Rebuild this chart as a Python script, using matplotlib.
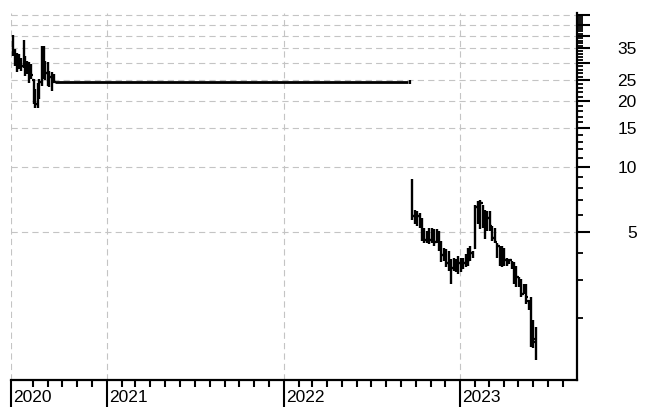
import matplotlib
matplotlib.use("Agg")
import matplotlib.pyplot as plt
import matplotlib.dates as mdates
import matplotlib.transforms as mtransforms
import pandas as pd

plt.rcParams["font.family"] = ["Liberation Sans", "DejaVu Sans"]
plt.rcParams["lines.scale_dashes"] = False

# --- Price bars, summer 2020 ---
early_open = [38.0, 33.0, 30.0, 29.0, 31.0, 29.0, 31.0, 28.0, 29.5, 26.0, 25.0,
              20.5, 19.5, 23.0, 24.5, 35.0, 29.0, 27.0, 25.0, 26.0, 24.5]
early_high = [40.6, 34.7, 33.5, 32.9, 31.8, 38.3, 32.4, 30.7, 30.2, 29.7, 25.3,
              22.8, 24.4, 25.3, 36.1, 35.9, 30.7, 30.2, 27.6, 27.2, 26.7]
early_low = [32.4, 29.1, 27.2, 28.1, 27.6, 28.6, 26.2, 26.7, 24.4, 25.3, 19.5,
             18.6, 18.6, 20.5, 23.6, 25.3, 25.0, 23.6, 23.2, 22.4, 24.9]
early_close = [34.0, 30.0, 28.5, 31.0, 29.0, 31.0, 28.0, 29.5, 26.0, 26.5, 20.5,
               19.5, 23.0, 24.5, 35.0, 29.0, 27.0, 25.0, 26.0, 24.0, 24.5]

# --- Flat stretch with no trading ---
flat_start = "2020-09-15"
flat_end = "2022-09-15"
flat_value = 24.5
flat_end_high = 25.0
flat_end_low = 23.9

# --- Price bars, autumn 2022 to summer 2023 ---
late_open = [8.04, 5.90, 5.80, 5.90, 5.60, 4.70, 4.60, 4.90, 4.60, 4.90, 4.50,
             4.90, 4.30, 3.90, 4.00, 3.60, 3.50, 3.40, 3.60, 3.40, 3.60, 3.40,
             3.60, 3.80, 3.70, 4.00, 4.20, 6.50, 6.00, 6.80, 5.60, 5.20, 5.80,
             5.30, 4.70, 4.50, 4.30, 3.90, 4.00, 3.70, 3.60, 3.70, 3.50, 3.00,
             3.10, 2.90, 2.60, 2.70, 2.40, 2.30, 1.70, 1.60]
late_high = [8.78, 6.34, 6.23, 6.12, 5.81, 5.23, 5.05, 5.23, 5.23, 5.14, 5.14,
             5.05, 4.55, 4.24, 4.16, 4.09, 3.75, 3.81, 3.75, 3.88, 3.81, 3.81,
             3.95, 4.24, 4.31, 4.09, 6.68, 6.97, 7.00, 6.68, 6.34, 6.23, 6.23,
             5.32, 5.23, 4.47, 4.31, 4.31, 4.24, 3.81, 3.75, 3.68, 3.62, 3.49,
             3.10, 3.05, 2.88, 2.88, 2.42, 2.51, 1.96, 1.83]
late_low = [5.65, 5.42, 5.32, 5.23, 4.55, 4.47, 4.47, 4.39, 4.47, 4.31, 4.47,
            4.09, 3.62, 3.68, 3.43, 3.31, 2.88, 3.31, 3.26, 3.20, 3.26, 3.37,
            3.43, 3.49, 3.68, 3.81, 4.16, 5.42, 5.14, 5.23, 4.63, 5.05, 5.05,
            4.55, 4.47, 3.81, 3.49, 3.43, 3.49, 3.49, 3.56, 3.37, 2.88, 2.78,
            2.78, 2.51, 2.59, 2.34, 2.18, 1.48, 1.46, 1.29]
late_close = [5.90, 5.80, 5.90, 5.60, 4.70, 4.60, 4.90, 4.60, 4.90, 4.50, 4.90,
              4.30, 3.90, 4.00, 3.60, 3.50, 3.40, 3.60, 3.40, 3.60, 3.40, 3.60,
              3.80, 3.70, 4.00, 3.90, 6.50, 6.00, 6.80, 5.60, 5.20, 5.80, 5.30,
              4.70, 4.50, 4.30, 3.90, 4.00, 3.70, 3.60, 3.70, 3.50, 3.00, 3.10,
              2.90, 2.60, 2.70, 2.50, 2.30, 1.60, 1.55, 1.55]

early_dates = pd.date_range("2020-06-22", periods=len(early_open), freq="3B")
late_dates = pd.date_range("2022-09-24", periods=len(late_open), freq="5D")

# axis tick values
y_major = [5, 10, 15, 20, 25, 30, 35, 40, 45, 50]
y_labels = {5: "5", 10: "10", 15: "15", 20: "20", 25: "25", 35: "35"}
y_minor = [v for v in range(2, 51) if v not in y_major]
x_start = pd.Timestamp("2020-06-17")
x_end = pd.Timestamp("2023-08-30")
year_ticks = [x_start, pd.Timestamp("2021-01-01"), pd.Timestamp("2022-01-01"),
              pd.Timestamp("2023-01-01")]
year_labels = ["2020", "2021", "2022", "2023"]
month_ticks = pd.date_range("2020-08-01", "2023-08-01", freq="MS")

fig = plt.figure(figsize=(6.45, 4.07), dpi=100)
ax = fig.add_axes([11 / 645, 1 - 380 / 407, (577 - 11) / 645, (380 - 13) / 407])
ax.set_yscale("log")
ax.set_ylim(1.04, 51)
ax.set_xlim(x_start, x_end)

grid_kw = dict(color="#c4c4c4", lw=0.8, ls=(0, (4.5, 3.0)), zorder=0)
for v in y_major:
    ax.axhline(v, **grid_kw)
for d in year_ticks:
    ax.axvline(d, **grid_kw)


def ohlc(dates, o, h, l, c, half):
    ax.vlines(dates, l, h, color="black", lw=1.7, zorder=3)
    ax.hlines(o, dates - half, dates, color="black", lw=1.6, zorder=3)
    ax.hlines(c, dates, dates + half, color="black", lw=1.6, zorder=3)


half = pd.Timedelta(days=3)
ohlc(early_dates, early_open, early_high, early_low, early_close, half)
ohlc(late_dates, late_open, late_high, late_low, late_close, half)

ax.hlines(flat_value, pd.Timestamp(flat_start), pd.Timestamp(flat_end),
          color="black", lw=2.0, zorder=3)
ax.vlines(pd.Timestamp(flat_end) + pd.Timedelta(days=4), flat_end_low,
          flat_end_high, color="black", lw=1.6, zorder=3)

# spines
for s in ("left", "top"):
    ax.spines[s].set_visible(False)
for s in ("right", "bottom"):
    ax.spines[s].set_linewidth(1.6)

# y axis on the right
ax.yaxis.tick_right()
ax.yaxis.set_major_locator(matplotlib.ticker.FixedLocator(y_major))
ax.yaxis.set_minor_locator(matplotlib.ticker.FixedLocator(y_minor))
ax.yaxis.set_major_formatter(matplotlib.ticker.FixedFormatter(
    [y_labels.get(v, "") for v in y_major]))
ax.yaxis.set_minor_formatter(matplotlib.ticker.NullFormatter())
ax.tick_params(axis="y", which="major", length=9, width=1.5, pad=34,
               labelsize=12.5, colors="black")
ax.tick_params(axis="y", which="minor", length=4, width=1.3)
for t in ax.get_yticklabels():
    t.set_horizontalalignment("right")

# x axis: month ticks, long year ticks with labels beside them
ax.xaxis.set_major_locator(matplotlib.ticker.FixedLocator(
    [mdates.date2num(d) for d in year_ticks]))
ax.xaxis.set_minor_locator(matplotlib.ticker.FixedLocator(
    [mdates.date2num(d) for d in month_ticks]))
ax.xaxis.set_major_formatter(matplotlib.ticker.NullFormatter())
ax.xaxis.set_minor_formatter(matplotlib.ticker.NullFormatter())
ax.tick_params(axis="x", which="major", length=20, width=1.5)
ax.tick_params(axis="x", which="minor", length=5, width=1.5)

trans = mtransforms.blended_transform_factory(ax.transData, ax.transAxes)
for d, lab in zip(year_ticks, year_labels):
    ax.annotate(lab, xy=(mdates.date2num(d), 0), xycoords=trans,
                xytext=(1.5, -7), textcoords="offset points",
                ha="left", va="top", fontsize=12.5, color="black")

fig.savefig("out.png", dpi=100)
